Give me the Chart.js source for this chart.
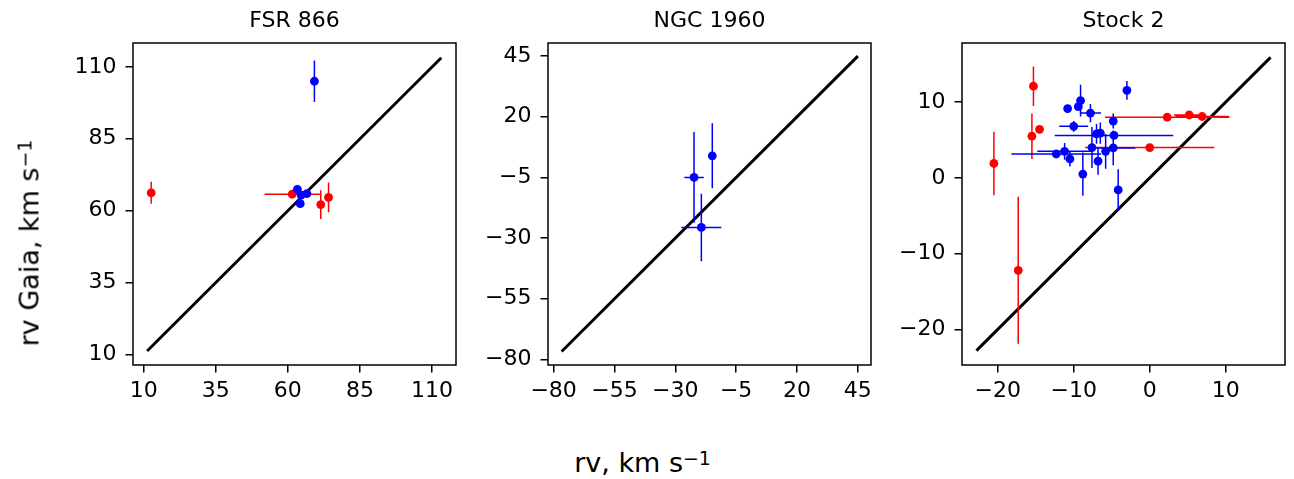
<!DOCTYPE html>
<html>
<head>
<meta charset="utf-8">
<script src="https://cdn.jsdelivr.net/npm/chart.js@4.4.1/dist/chart.umd.min.js"></script>
<style>
body { margin: 0; background: #fff; width: 1294px; height: 479px; position: relative; overflow: hidden; font-family: 'DejaVu Sans'; }
canvas { position: absolute; top: 0; }
.lbl { position: absolute; font-size: 27px; line-height: 27px; white-space: nowrap; color: #000; }
.lbl sup { font-size: 0.7em; vertical-align: 0.37em; line-height: 0; }
#xlabel { left: 642.5px; top: 449px; transform: translateX(-50%); }
#ylabel { left: 29px; top: 242.5px; transform: translate(-50%, -50%) rotate(-90deg); }
</style>
</head>
<body>
<canvas id="fsr" width="431" height="420" style="left:33px"></canvas>
<canvas id="ngc" width="431" height="420" style="left:448px"></canvas>
<canvas id="stock" width="431" height="420" style="left:862px"></canvas>
<div class="lbl" id="xlabel">rv, km s<sup>−1</sup></div>
<div class="lbl" id="ylabel">rv Gaia, km s<sup>−1</sup></div>
<script>
// FSR 866
const fsrRedX = [12.6, 61.5, 71.4, 74.1];
const fsrRedY = [66.2, 65.7, 62.1, 64.6];
const fsrRedXerr = [0, 9.6, 0, 0];
const fsrRedYerr = [3.8, 0, 5.0, 5.2];
const fsrBlueX = [69.2, 63.3, 66.6, 64.3, 64.6];
const fsrBlueY = [105, 67.4, 65.9, 62.4, 65.4];
const fsrBlueXerr = [0, 0, 0, 0, 0];
const fsrBlueYerr = [7.2, 0, 0, 0, 0];
const fsrLine = [11.2, 113.2];
const fsrTicks = [10, 35, 60, 85, 110];
const fsrRange = [6.3, 118.3];

// NGC 1960
const ngcBlueX = [-22.3, -14.8, -19.3];
const ngcBlueY = [-5, 3.9, -25.6];
const ngcBlueXerr = [4, 0, 8.2];
const ngcBlueYerr = [18.7, 13.4, 13.9];
const ngcLine = [-76.7, 45];
const ngcTicks = [-80, -55, -30, -5, 20, 45];
const ngcRange = [-82.3, 50.4];

// Stock 2
const stockRedX = [-20.5, -17.3, -15.3, -15.5, -14.5, 0.0, 2.3, 5.2, 6.9];
const stockRedY = [1.9, -12.2, 12.1, 5.5, 6.4, 4.0, 8.0, 8.3, 8.1];
const stockRedXerr = [0, 0, 0, 0, 0, 8.5, 8.2, 2.0, 3.5];
const stockRedYerr = [4.2, 9.7, 2.6, 3.0, 0, 0, 0, 0, 0];
const stockBlueX = [-3.0, -10.8, -9.1, -9.4, -7.8, -4.8, -10.0, -7.0, -6.5, -4.7, -7.6, -4.8, -5.8, -12.3, -11.2, -10.5, -6.8, -8.8, -4.15];
const stockBlueY = [11.55, 9.15, 10.2, 9.4, 8.55, 7.5, 6.8, 5.8, 5.9, 5.6, 4.0, 3.95, 3.5, 3.15, 3.5, 2.5, 2.2, 0.5, -1.6];
const stockBlueXerr = [0, 0, 0, 0, 1.4, 0, 1.9, 0, 0, 7.8, 0, 2.9, 0, 5.9, 3.6, 0, 0, 0, 0];
const stockBlueYerr = [1.25, 0, 2.1, 0, 1.2, 1.0, 0.7, 1.3, 1.4, 0, 2.7, 2.3, 2.3, 0.5, 1.1, 1.0, 1.8, 2.85, 2.75];
const stockLine = [-22.8, 15.9];
const stockTicks = [-20, -10, 0, 10];
const stockRange = [-24.7, 17.8];

const fontFamily = 'DejaVu Sans';

function pointsOf(xs, ys) {
    return xs.map((x, i) => ({x: x, y: ys[i]}));
}

function errorSegments(xs, ys, xerr, yerr) {
    const pts = [];
    xs.forEach((x, i) => {
        const y = ys[i];
        if (xerr[i] > 0) pts.push({x: x - xerr[i], y: y}, {x: x + xerr[i], y: y}, {x: x, y: null});
        if (yerr[i] > 0) pts.push({x: x, y: y - yerr[i]}, {x: x, y: y + yerr[i]}, {x: x, y: null});
    });
    return pts;
}

function seriesDatasets(xs, ys, xerr, yerr, color, order) {
    return [{
        data: errorSegments(xs, ys, xerr, yerr),
        showLine: true,
        spanGaps: false,
        borderColor: color,
        borderWidth: 1.5,
        pointRadius: 0,
        order: order + 1
    }, {
        data: pointsOf(xs, ys),
        backgroundColor: color,
        borderColor: color,
        borderWidth: 0,
        pointRadius: 4.4,
        order: order
    }];
}

function axis(range, ticks, isX) {
    return {
        type: 'linear',
        min: range[0],
        max: range[1],
        afterBuildTicks: s => { s.ticks = ticks.map(v => ({value: v})); },
        afterFit: s => { if (isX) s.height = 55; else s.width = 100; },
        grid: {drawOnChartArea: false, drawTicks: true, tickLength: 7.5, color: '#000', lineWidth: 1.5},
        border: {display: false},
        ticks: {
            color: '#000',
            font: {family: fontFamily, size: 22},
            padding: isX ? 5.7 : 9,
            autoSkip: false,
            maxRotation: 0,
            callback: v => String(v).replace('-', '\u2212')
        }
    };
}

const frame = {
    id: 'frame',
    afterDraw(chart) {
        const {ctx, chartArea: a} = chart;
        ctx.save();
        ctx.strokeStyle = '#000';
        ctx.lineWidth = 1.5;
        ctx.strokeRect(a.left, a.top, a.right - a.left, a.bottom - a.top);
        ctx.restore();
    }
};

function panel(id, title, datasets, line, xTicks, yTicks, range) {
    const all = [{
        data: line.map(v => ({x: v, y: v})),
        showLine: true,
        borderColor: '#000',
        borderWidth: 2.9,
        pointRadius: 0,
        order: 10
    }].concat(datasets);
    new Chart(document.getElementById(id), {
        type: 'scatter',
        data: {datasets: all},
        options: {
            responsive: false,
            animation: false,
            devicePixelRatio: 1,
            events: [],
            layout: {padding: {left: 0, right: 8, top: 0, bottom: 0}},
            scales: {
                x: axis(range, xTicks, true),
                y: axis(range, yTicks, false)
            },
            plugins: {
                legend: {display: false},
                tooltip: {enabled: false},
                title: {
                    display: true,
                    text: title,
                    fullSize: false,
                    color: '#000',
                    font: {family: fontFamily, size: 22, weight: 'normal'},
                    padding: {top: 7.8, bottom: 8.8}
                }
            }
        },
        plugins: [frame]
    });
}

panel('fsr', 'FSR 866',
    seriesDatasets(fsrRedX, fsrRedY, fsrRedXerr, fsrRedYerr, '#ff0000', 3)
        .concat(seriesDatasets(fsrBlueX, fsrBlueY, fsrBlueXerr, fsrBlueYerr, '#0000ff', 1)),
    fsrLine, fsrTicks, fsrTicks, fsrRange);

panel('ngc', 'NGC 1960',
    seriesDatasets(ngcBlueX, ngcBlueY, ngcBlueXerr, ngcBlueYerr, '#0000ff', 1),
    ngcLine, ngcTicks, ngcTicks, ngcRange);

panel('stock', 'Stock 2',
    seriesDatasets(stockRedX, stockRedY, stockRedXerr, stockRedYerr, '#ff0000', 3)
        .concat(seriesDatasets(stockBlueX, stockBlueY, stockBlueXerr, stockBlueYerr, '#0000ff', 1)),
    stockLine, stockTicks, stockTicks, stockRange);
</script>
</body>
</html>
